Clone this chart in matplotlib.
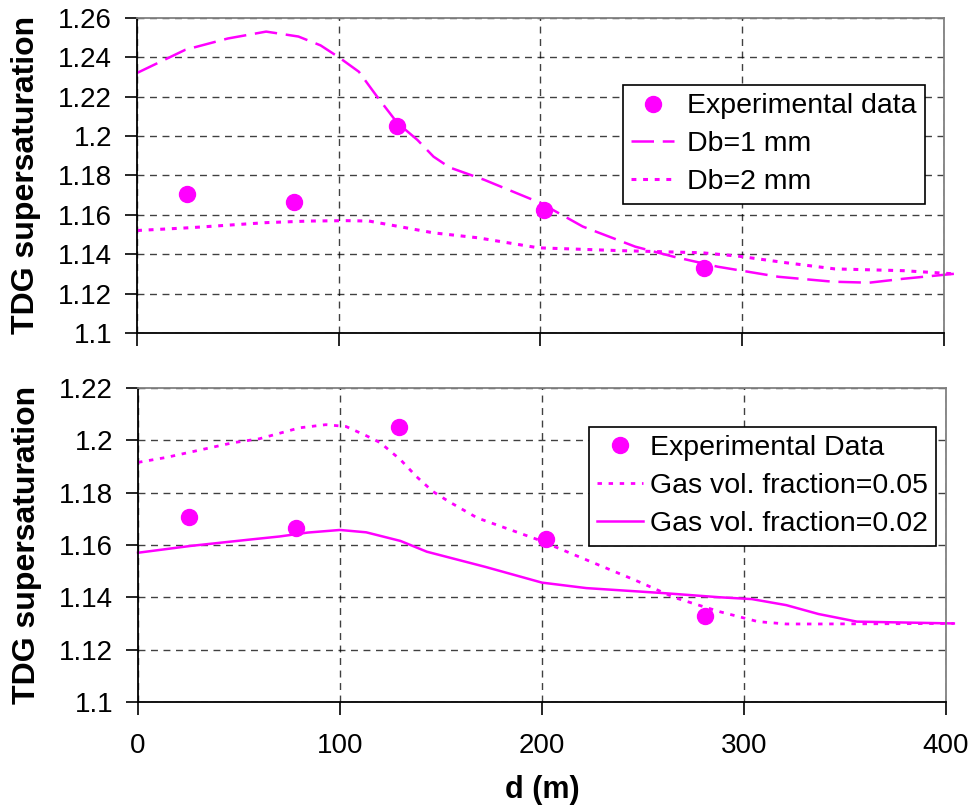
import matplotlib
matplotlib.use("Agg")
import matplotlib.pyplot as plt

plt.rcParams['font.family'] = ['Liberation Sans', 'DejaVu Sans']

# Experimental data (shared)
exp_x = [25, 78, 129, 202, 281]
exp_y = [1.1705, 1.1664, 1.2052, 1.1624, 1.1330]

# Top panel: bubble diameter
db1_x = [0, 24, 45, 64, 80, 91, 100, 110, 119, 129, 139, 147, 155, 172, 200, 221, 247, 266, 288, 318, 345, 363, 380, 405]
db1_y = [1.232, 1.2438, 1.2495, 1.253, 1.2505, 1.246, 1.240, 1.2326, 1.220, 1.2067, 1.198, 1.1895, 1.184, 1.1778, 1.166, 1.154, 1.1438, 1.1387, 1.1336, 1.1285, 1.126, 1.1255, 1.1275, 1.130]
db2_x = [0, 26, 64, 85, 104, 115, 130, 147, 169, 199, 239, 280, 298, 322, 346, 380, 405]
db2_y = [1.152, 1.1534, 1.156, 1.1568, 1.157, 1.1568, 1.154, 1.1508, 1.1483, 1.1432, 1.1418, 1.1407, 1.139, 1.1356, 1.1325, 1.1316, 1.130]

# Bottom panel: gas volume fraction
g05_x = [0, 14, 47, 60, 80, 93, 103, 113, 120, 130, 138, 146, 154, 168, 198, 222, 246, 266, 288, 307, 321, 337, 404]
g05_y = [1.1915, 1.1934, 1.199, 1.2005, 1.2047, 1.2059, 1.2052, 1.2017, 1.199, 1.1925, 1.186, 1.1804, 1.1765, 1.1703, 1.162, 1.1543, 1.1466, 1.1398, 1.1345, 1.1307, 1.1298, 1.1298, 1.130]
g02_x = [0, 26, 55, 70, 84, 100, 113, 130, 143, 172, 200, 222, 260, 288, 304, 321, 337, 356, 404]
g02_y = [1.157, 1.1596, 1.162, 1.1632, 1.1647, 1.1657, 1.1648, 1.1615, 1.1574, 1.1516, 1.1456, 1.1435, 1.1416, 1.140, 1.1393, 1.137, 1.1336, 1.1307, 1.130]

x_ticks = [0, 100, 200, 300, 400]
top_yticks = [1.1, 1.12, 1.14, 1.16, 1.18, 1.2, 1.22, 1.24, 1.26]
top_ylabels = ['1.1', '1.12', '1.14', '1.16', '1.18', '1.2', '1.22', '1.24', '1.26']
bot_yticks = [1.1, 1.12, 1.14, 1.16, 1.18, 1.2, 1.22]
bot_ylabels = ['1.1', '1.12', '1.14', '1.16', '1.18', '1.2', '1.22']

MAG = '#FF00FF'
TICK_FS = 20
LAB_FS = 23
LEG_FS = 20.5

fig = plt.figure(figsize=(9.72, 8.10), dpi=100)
ax1 = fig.add_axes([0.141, 0.589, 0.830, 0.389])
ax2 = fig.add_axes([0.142, 0.1333, 0.831, 0.388])


def style(ax, yticks, ylabels, ylim):
    ax.set_xlim(0, 400)
    ax.set_ylim(*ylim)
    ax.set_xticks(x_ticks)
    ax.set_yticks(yticks)
    ax.set_yticklabels(ylabels, fontsize=TICK_FS)
    ax.tick_params(axis='both', direction='out', length=9, width=1.2, color='black')
    ax.tick_params(axis='y', pad=9)
    ax.grid(True, which='major', color='black', linestyle=(0, (5, 4)), linewidth=1.0, alpha=0.75)
    ax.set_axisbelow(True)
    for s in ['left', 'bottom']:
        ax.spines[s].set_color('black')
        ax.spines[s].set_linewidth(1.3)
    for s in ['top', 'right']:
        ax.spines[s].set_color('#808080')
        ax.spines[s].set_linewidth(1.3)
    ax.set_ylabel('TDG supersaturation', fontsize=LAB_FS, fontweight='bold', labelpad=12)


style(ax1, top_yticks, top_ylabels, (1.1, 1.26))
ax1.tick_params(axis='x', labelbottom=False)
ax1.plot(exp_x, exp_y, 'o', color=MAG, markersize=11.5, label='Experimental data', zorder=5)
ax1.plot(db1_x, db1_y, color=MAG, linewidth=1.8, linestyle=(0, (9, 3.5)), label='Db=1 mm', clip_on=False)
ax1.plot(db2_x, db2_y, color=MAG, linewidth=2.2, linestyle=(0, (1.6, 2.2)), label='Db=2 mm', clip_on=False)
leg1 = ax1.legend(loc='upper left', bbox_to_anchor=(0.602, 0.787), fontsize=LEG_FS, frameon=True,
                  fancybox=False, edgecolor='black', framealpha=1, borderpad=0.3,
                  labelspacing=0.42, handlelength=1.5, handletextpad=0.45, borderaxespad=0)
leg1.get_frame().set_linewidth(1.2)

style(ax2, bot_yticks, bot_ylabels, (1.1, 1.22))
ax2.set_xticklabels([str(v) for v in x_ticks], fontsize=TICK_FS)
ax2.tick_params(axis='x', pad=13)
ax2.plot(exp_x, exp_y, 'o', color=MAG, markersize=11.5, label='Experimental Data', zorder=5)
ax2.plot(g05_x, g05_y, color=MAG, linewidth=2.0, linestyle=(0, (1.6, 2.4)), label='Gas vol. fraction=0.05', clip_on=False)
ax2.plot(g02_x, g02_y, color=MAG, linewidth=1.8, linestyle='-', label='Gas vol. fraction=0.02', clip_on=False)
leg2 = ax2.legend(loc='upper left', bbox_to_anchor=(0.558, 0.876), fontsize=LEG_FS, frameon=True,
                  fancybox=False, edgecolor='black', framealpha=1, borderpad=0.3,
                  labelspacing=0.42, handlelength=1.6, handletextpad=0.25, borderaxespad=0)
leg2.get_frame().set_linewidth(1.2)
ax2.set_xlabel('d (m)', fontsize=22, fontweight='bold', labelpad=12)

fig.savefig('out.png', dpi=100, facecolor='white')
